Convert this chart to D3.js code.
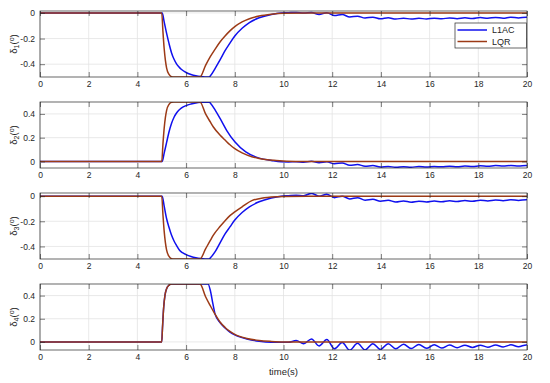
<!DOCTYPE html>
<html>
<head>
<meta charset="utf-8">
<script src="https://cdn.jsdelivr.net/npm/d3@7"></script>
<style>
  body { margin: 0; background: #fff; }
  svg { display: block; font-family: "Liberation Sans", Arial, sans-serif; }
</style>
</head>
<body>
<div id="chart"></div>
<script>
// x ticks shared by every panel
var xTicks = [0, 2, 4, 6, 8, 10, 12, 14, 16, 18, 20];

// sample times of the small oscillation after t=10 (peaks / troughs)
var tOsc = [10.2, 10.52, 10.83, 11.15, 11.46, 11.78, 12.09, 12.41, 12.72, 13.04, 13.35,
            13.67, 13.98, 14.3, 14.61, 14.93, 15.24, 15.56, 15.87, 16.19, 16.5, 16.82,
            17.13, 17.45, 17.76, 18.08, 18.39, 18.71, 19.02, 19.34, 19.65, 19.97, 20];

// delta 1
var d1L1acHead = [[0,0],[5.02,0],[5.1,-0.07],[5.2,-0.16],[5.3,-0.24],[5.4,-0.31],[5.5,-0.36],
  [5.6,-0.395],[5.7,-0.42],[5.8,-0.44],[6,-0.465],[6.2,-0.48],[6.4,-0.49],[6.6,-0.496],[6.95,-0.5],
  [7,-0.49],[7.2,-0.43],[7.4,-0.365],[7.6,-0.295],[7.8,-0.235],[8,-0.18],[8.3,-0.12],[8.6,-0.075],
  [9,-0.038],[9.5,-0.012],[9.9,0]];
var d1L1acOsc = [0.002,0.004,0,0.004,-0.012,0.002,-0.02,-0.012,-0.032,-0.025,-0.04,-0.033,-0.046,
  -0.038,-0.048,-0.041,-0.048,-0.042,-0.047,-0.041,-0.046,-0.039,-0.045,-0.038,-0.044,-0.036,-0.042,
  -0.035,-0.041,-0.033,-0.039,-0.033,-0.035];
var d1Lqr = [[0,0],[5,0],[5.05,-0.15],[5.1,-0.28],[5.15,-0.37],[5.2,-0.43],[5.3,-0.48],[5.4,-0.497],
  [5.5,-0.5],[6.57,-0.5],[6.8,-0.41],[7,-0.34],[7.2,-0.28],[7.4,-0.225],[7.6,-0.18],[7.8,-0.14],
  [8,-0.107],[8.3,-0.07],[8.6,-0.045],[9,-0.024],[9.5,-0.01],[10,-0.003],[11,0],[20,0]];

// delta 2
var d2L1acHead = [[0,0],[5.02,0],[5.1,0.07],[5.2,0.16],[5.3,0.25],[5.4,0.32],[5.5,0.37],[5.6,0.405],
  [5.7,0.43],[5.8,0.448],[6,0.47],[6.2,0.483],[6.4,0.492],[6.6,0.497],[6.95,0.5],[7,0.49],[7.2,0.43],
  [7.4,0.36],[7.67,0.26],[8,0.165],[8.45,0.08],[9,0.028],[9.5,0.008],[9.9,-0.003]];
var d2L1acOsc = [-0.004,-0.002,-0.006,0.002,-0.01,-0.003,-0.02,-0.012,-0.032,-0.026,-0.04,-0.035,
  -0.046,-0.042,-0.049,-0.044,-0.048,-0.043,-0.047,-0.042,-0.045,-0.04,-0.044,-0.039,-0.042,-0.037,
  -0.041,-0.035,-0.039,-0.034,-0.038,-0.034,-0.036];
var d2Lqr = [[0,0],[5,0],[5.05,0.15],[5.1,0.28],[5.15,0.37],[5.2,0.43],[5.3,0.48],[5.4,0.497],
  [5.5,0.5],[6.57,0.5],[6.8,0.4],[7,0.33],[7.12,0.29],[7.4,0.22],[7.6,0.18],[7.8,0.14],[8,0.108],
  [8.3,0.072],[8.7,0.04],[9,0.025],[9.7,0.008],[10.5,0],[20,0]];

// delta 3
var d3L1acHead = [[0,0],[5.02,0],[5.1,-0.08],[5.2,-0.18],[5.3,-0.25],[5.4,-0.31],[5.5,-0.355],
  [5.6,-0.39],[5.73,-0.43],[5.85,-0.45],[6,-0.465],[6.2,-0.48],[6.4,-0.49],[6.6,-0.496],[6.95,-0.5],
  [7,-0.49],[7.2,-0.44],[7.4,-0.37],[7.6,-0.3],[7.8,-0.245],[8,-0.19],[8.3,-0.13],[8.6,-0.085],
  [9,-0.045],[9.5,-0.015],[9.9,0]];
var d3L1acOsc = [0.004,0.008,0.004,0.022,0,0.015,-0.012,0,-0.022,-0.012,-0.032,-0.025,-0.04,-0.033,
  -0.046,-0.038,-0.048,-0.04,-0.047,-0.039,-0.045,-0.037,-0.043,-0.035,-0.041,-0.033,-0.038,-0.031,
  -0.036,-0.029,-0.034,-0.028,-0.03];
var d3Lqr = [[0,0],[5,0],[5.05,-0.15],[5.1,-0.28],[5.15,-0.37],[5.2,-0.43],[5.3,-0.48],[5.4,-0.497],
  [5.5,-0.5],[6.57,-0.5],[6.8,-0.42],[7,-0.35],[7.12,-0.31],[7.4,-0.24],[7.6,-0.195],[7.8,-0.155],
  [8,-0.125],[8.3,-0.085],[8.72,-0.034],[9,-0.02],[9.5,-0.007],[10,-0.002],[11,0],[20,0]];

// delta 4
var d4L1acHead = [[0,0],[5,0],[5.03,0.12],[5.08,0.3],[5.13,0.4],[5.2,0.46],[5.3,0.49],[5.4,0.5],
  [6.9,0.5],[7,0.44],[7.1,0.33],[7.19,0.24],[7.4,0.165],[7.6,0.12],[7.8,0.085],[8,0.06],[8.2,0.043],
  [8.5,0.025],[9,0.006],[9.5,-0.003],[9.9,-0.004]];
var d4L1acOsc = [-0.004,0.011,-0.015,0.026,-0.035,0.02,-0.06,-0.005,-0.072,-0.012,-0.07,-0.015,
  -0.065,-0.016,-0.06,-0.02,-0.058,-0.022,-0.055,-0.025,-0.053,-0.027,-0.05,-0.028,-0.048,-0.028,
  -0.046,-0.026,-0.044,-0.025,-0.042,-0.026,-0.028];
var d4Lqr = [[0,0],[5,0],[5.03,0.12],[5.08,0.3],[5.13,0.4],[5.2,0.46],[5.3,0.49],[5.4,0.5],
  [6.57,0.5],[6.8,0.39],[7,0.31],[7.2,0.235],[7.4,0.17],[7.6,0.125],[7.8,0.09],[8,0.065],[8.2,0.048],
  [8.5,0.03],[9,0.012],[9.5,0.004],[10,0],[20,0]];

var panels = [
  {sub: "1", yDomain: [-0.5, 0.015], yTicks: [-0.4, -0.2, 0], l1acHead: d1L1acHead, l1acOsc: d1L1acOsc, lqr: d1Lqr},
  {sub: "2", yDomain: [-0.055, 0.5], yTicks: [0, 0.2, 0.4], l1acHead: d2L1acHead, l1acOsc: d2L1acOsc, lqr: d2Lqr},
  {sub: "3", yDomain: [-0.5, 0.025], yTicks: [-0.4, -0.2, 0], l1acHead: d3L1acHead, l1acOsc: d3L1acOsc, lqr: d3Lqr},
  {sub: "4", yDomain: [-0.07, 0.5], yTicks: [0, 0.2, 0.4], l1acHead: d4L1acHead, l1acOsc: d4L1acOsc, lqr: d4Lqr}
];

var seriesNames = ["L1AC", "LQR"];
var colors = {L1AC: "#1010ee", LQR: "#9c3a16"};

var W = 550, H = 383;
var left = 40, right = 527, ph = 66, gap = 91, top0 = 11;
var axisCol = "#262626";

var svg = d3.select("#chart").append("svg").attr("width", W).attr("height", H);
var x = d3.scaleLinear().domain([0, 20]).range([left, right]);

var line = d3.line()
    .x(function(d) { return x(d[0]); })
    .curve(d3.curveMonotoneX);

panels.forEach(function(p, i) {
    var top = top0 + i * gap, bottom = top + ph;
    var y = d3.scaleLinear().domain(p.yDomain).range([bottom, top]);
    line.y(function(d) { return y(d[1]); });
    var g = svg.append("g");

    // grid
    g.selectAll(".gx").data(xTicks).enter().append("line")
        .attr("x1", function(d) { return x(d); }).attr("x2", function(d) { return x(d); })
        .attr("y1", top).attr("y2", bottom)
        .attr("stroke", "#e3e3e3").attr("stroke-width", 0.8);
    g.selectAll(".gy").data(p.yTicks).enter().append("line")
        .attr("x1", left).attr("x2", right)
        .attr("y1", function(d) { return y(d); }).attr("y2", function(d) { return y(d); })
        .attr("stroke", "#e3e3e3").attr("stroke-width", 0.8);

    // lines
    g.append("clipPath").attr("id", "clip" + i).append("rect")
        .attr("x", left).attr("y", top).attr("width", right - left).attr("height", ph);
    var l1ac = p.l1acHead.concat(tOsc.map(function(t, k) { return [t, p.l1acOsc[k]]; }));
    var lines = g.append("g").attr("clip-path", "url(#clip" + i + ")");
    lines.append("path").attr("d", line(l1ac))
        .attr("fill", "none").attr("stroke", colors.L1AC).attr("stroke-width", 1.5);
    lines.append("path").attr("d", line(p.lqr))
        .attr("fill", "none").attr("stroke", colors.LQR).attr("stroke-width", 1.5);

    // axes
    var xb = d3.axisBottom(x).tickValues(xTicks).tickSize(-5).tickPadding(4)
        .tickFormat(d3.format("d"));
    var xt = d3.axisTop(x).tickValues(xTicks).tickSize(-5).tickFormat("");
    var yl = d3.axisLeft(y).tickValues(p.yTicks).tickSize(-5).tickPadding(5)
        .tickFormat(function(d) { return d === 0 ? "0" : d3.format(".1f")(d).replace("−", "-"); });
    var yr = d3.axisRight(y).tickValues(p.yTicks).tickSize(-5).tickFormat("");
    [[xb, "translate(0," + bottom + ")"], [xt, "translate(0," + top + ")"],
     [yl, "translate(" + left + ",0)"], [yr, "translate(" + right + ",0)"]].forEach(function(a) {
        var ag = g.append("g").attr("transform", a[1]).call(a[0]);
        ag.select(".domain").remove();
        ag.selectAll("line").attr("stroke", axisCol).attr("stroke-width", 0.6);
        ag.selectAll("text").attr("fill", axisCol).style("font-size", "8.5px")
            .style("font-family", "Liberation Sans, Arial, sans-serif");
    });
    g.append("rect").attr("x", left).attr("y", top).attr("width", right - left).attr("height", ph)
        .attr("fill", "none").attr("stroke", axisCol).attr("stroke-width", 0.7);

    // y label
    var lab = g.append("text")
        .attr("transform", "translate(16.5," + (top + ph / 2) + ") rotate(-90)")
        .attr("text-anchor", "middle").attr("fill", axisCol).style("font-size", "9.5px");
    lab.append("tspan").text("δ");
    lab.append("tspan").attr("baseline-shift", "-25%").style("font-size", "7px").text(p.sub);
    lab.append("tspan").text("(");
    lab.append("tspan").attr("baseline-shift", "40%").style("font-size", "7px").text("o");
    lab.append("tspan").text(")");

    if (i === panels.length - 1) {
        g.append("text").attr("x", (left + right) / 2).attr("y", bottom + 25)
            .attr("text-anchor", "middle").attr("fill", axisCol).style("font-size", "9.5px")
            .text("time(s)");
    }
});

// legend
var leg = svg.append("g");
leg.append("rect").attr("x", 455).attr("y", 23).attr("width", 71.5).attr("height", 25)
    .attr("fill", "#fff").attr("stroke", axisCol).attr("stroke-width", 0.7);
seriesNames.forEach(function(n, k) {
    var yy = 30 + k * 11.5;
    leg.append("line").attr("x1", 457.5).attr("x2", 487).attr("y1", yy).attr("y2", yy)
        .attr("stroke", colors[n]).attr("stroke-width", 1.5);
    leg.append("text").attr("x", 492).attr("y", yy + 3.2).attr("fill", axisCol)
        .style("font-size", "9px").text(n);
});
</script>
</body>
</html>
